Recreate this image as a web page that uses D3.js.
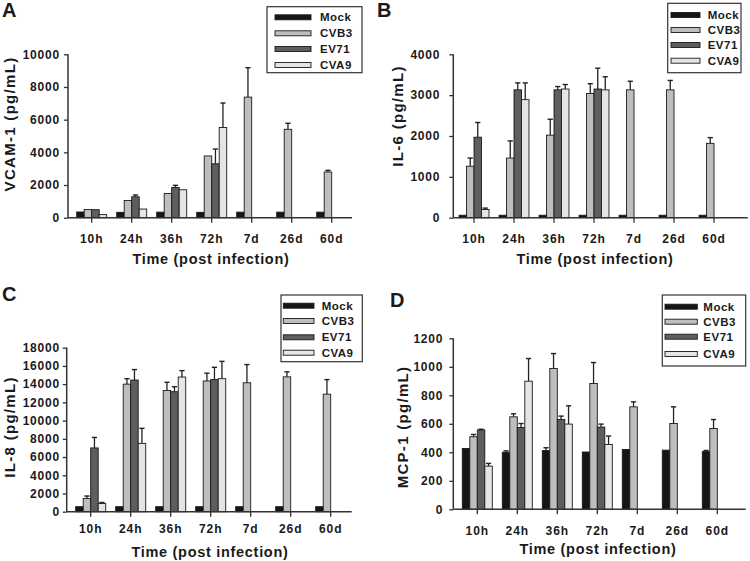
<!DOCTYPE html>
<html>
<head>
<meta charset="utf-8">
<script src="https://cdn.jsdelivr.net/npm/d3@7"></script>
<style>
  body { margin: 0; background: #fff; }
  svg { display: block; }
  text { font-family: 'Liberation Sans', Arial, sans-serif; font-weight: bold; fill: #1a1a1a; }
</style>
</head>
<body>
<div id="chart"></div>
<script>
// categories and series
const categories = ['10h', '24h', '36h', '72h', '7d', '26d', '60d'];
const seriesNames = ['Mock', 'CVB3', 'EV71', 'CVA9'];

// A: VCAM-1 (pg/mL)
const vcamMock = [350, 330, 340, 330, 340, 340, 340];
const vcamCVB3 = [500, 1050, 1480, 3780, 7380, 5410, 2800];
const vcamEV71 = [490, 1280, 1850, 3300, null, null, null];
const vcamCVA9 = [190, 530, 1710, 5520, null, null, null];
const vcamMockErr = [0, 0, 0, 0, 0, 0, 0];
const vcamCVB3Err = [0, 0, 0, 0, 1800, 370, 100];
const vcamEV71Err = [0, 110, 130, 900, 0, 0, 0];
const vcamCVA9Err = [0, 0, 0, 1500, 0, 0, 0];

// B: IL-6 (pg/mL)
const il6Mock = [60, 60, 60, 60, 60, 60, 60];
const il6CVB3 = [1260, 1460, 2020, 3040, 3130, 3130, 1820];
const il6EV71 = [1970, 3130, 3130, 3150, null, null, null];
const il6CVA9 = [200, 2890, 3150, 3130, null, null, null];
const il6MockErr = [0, 0, 0, 0, 0, 0, 0];
const il6CVB3Err = [200, 420, 390, 240, 210, 230, 140];
const il6EV71Err = [360, 170, 80, 510, 0, 0, 0];
const il6CVA9Err = [35, 410, 110, 320, 0, 0, 0];

// C: IL-8 (pg/mL)
const il8Mock = [550, 550, 550, 550, 550, 550, 550];
const il8CVB3 = [1460, 14000, 13300, 14350, 14150, 14800, 12900];
const il8EV71 = [7000, 14450, 13170, 14500, null, null, null];
const il8CVA9 = [900, 7500, 14780, 14600, null, null, null];
const il8MockErr = [0, 0, 0, 0, 0, 0, 0];
const il8CVB3Err = [260, 600, 900, 850, 2000, 550, 1600];
const il8EV71Err = [1150, 1150, 550, 1350, 0, 0, 0];
const il8CVA9Err = [110, 1650, 700, 1900, 0, 0, 0];

// D: MCP-1 (pg/mL)
const mcpMock = [427, 400, 412, 402, 420, 415, 405];
const mcpCVB3 = [509, 649, 988, 883, 719, 602, 567];
const mcpEV71 = [557, 574, 630, 577, null, null, null];
const mcpCVA9 = [303, 899, 598, 455, null, null, null];
const mcpMockErr = [0, 10, 20, 0, 0, 0, 8];
const mcpCVB3Err = [16, 21, 105, 147, 35, 117, 63];
const mcpEV71Err = [5, 28, 24, 21, 0, 0, 0];
const mcpCVA9Err = [19, 159, 128, 59, 0, 0, 0];

const yTicksA = [0, 2000, 4000, 6000, 8000, 10000];
const yTicksB = [0, 1000, 2000, 3000, 4000];
const yTicksC = [0, 2000, 4000, 6000, 8000, 10000, 12000, 14000, 16000, 18000];
const yTicksD = [0, 200, 400, 600, 800, 1000, 1200];

const colors = { Mock: '#151515', CVB3: '#bebebe', EV71: '#5e5e5e', CVA9: '#e5e5e5' };

const svg = d3.select('#chart').append('svg')
  .attr('width', 750)
  .attr('height', 561);

// panel layout (pixel positions)
const panels = [
  { letter: 'A', lx: 2, ly: 17, title: 'VCAM-1 (pg/mL)', tx: 9.5, ty: 124,
    values: [vcamMock, vcamCVB3, vcamEV71, vcamCVA9], errs: [vcamMockErr, vcamCVB3Err, vcamEV71Err, vcamCVA9Err],
    ticks: yTicksA, left: 68, right: 352, top: 54.3, base: 217.7, c0: 91.7, pad: 8,
    xlab: 239.3, xtx: 211, xty: 259.3,
    leg: { x: 267, y: 6.7, w: 95, h: 66, sx0: 275, sx1: 311, tx: 320, rows: [17.3, 33.3, 49, 65] } },
  { letter: 'B', lx: 377, ly: 17, title: 'IL-6 (pg/mL)', tx: 397, ty: 116,
    values: [il6Mock, il6CVB3, il6EV71, il6CVA9], errs: [il6MockErr, il6CVB3Err, il6EV71Err, il6CVA9Err],
    ticks: yTicksB, left: 453.3, right: 747.7, top: 54.3, base: 217.7, c0: 474, pad: 13,
    xlab: 239.3, xtx: 595, xty: 259.3,
    leg: { x: 667.7, y: 3.3, w: 73.3, h: 69.4, sx0: 671, sx1: 700, tx: 707.7, rows: [15, 30, 45, 60.7] } },
  { letter: 'C', lx: 2, ly: 300.7, title: 'IL-8 (pg/mL)', tx: 9, ty: 427,
    values: [il8Mock, il8CVB3, il8EV71, il8CVA9], errs: [il8MockErr, il8CVB3Err, il8EV71Err, il8CVA9Err],
    ticks: yTicksC, left: 66.7, right: 351.7, top: 347.7, base: 511.7, c0: 90.7, pad: 6.7,
    xlab: 529.3, xtx: 210, xty: 551.7,
    leg: { x: 281, y: 295, w: 81.3, h: 66.7, sx0: 283.3, sx1: 314, tx: 321.7, rows: [305.7, 321, 337.3, 352.7] } },
  { letter: 'D', lx: 390, ly: 307, title: 'MCP-1 (pg/mL)', tx: 402, ty: 427,
    values: [mcpMock, mcpCVB3, mcpEV71, mcpCVA9], errs: [mcpMockErr, mcpCVB3Err, mcpEV71Err, mcpCVA9Err],
    ticks: yTicksD, left: 453.3, right: 745.7, top: 338.3, base: 509.3, c0: 477.3, pad: 10,
    xlab: 530.7, xtx: 598, xty: 549.3,
    leg: { x: 662.3, y: 295, w: 83.4, h: 71, sx0: 665, sx1: 697.3, tx: 703.3, rows: [306.7, 321.7, 336.7, 354] } }
];

const drawPanel = (p) => {
  const g = svg.append('g');

  // scales
  const x = d3.scaleBand()
    .domain(categories)
    .range([p.c0 - 20, p.c0 + 40 * categories.length - 20])
    .paddingInner(0.25)
    .paddingOuter(0.125);
  const xSub = d3.scaleBand()
    .domain(seriesNames)
    .range([0, x.bandwidth()]);
  const y = d3.scaleLinear()
    .domain([0, d3.max(p.ticks)])
    .range([p.base, p.top]);

  // bars
  const rows = [];
  seriesNames.forEach((s, si) => {
    categories.forEach((c, ci) => {
      const v = p.values[si][ci];
      if (v != null) rows.push({ s, c, v, e: p.errs[si][ci] });
    });
  });

  // error bars (upper only), drawn first so bar sits on top of stem
  const errRows = rows.filter(d => d.e > 0);
  g.selectAll('.err')
    .data(errRows)
    .enter()
    .append('line')
    .attr('x1', d => x(d.c) + xSub(d.s) + xSub.bandwidth() / 2)
    .attr('x2', d => x(d.c) + xSub(d.s) + xSub.bandwidth() / 2)
    .attr('y1', d => y(d.v))
    .attr('y2', d => y(d.v + d.e))
    .attr('stroke', '#222')
    .attr('stroke-width', 1.3);
  g.selectAll('.cap')
    .data(errRows)
    .enter()
    .append('line')
    .attr('x1', d => x(d.c) + xSub(d.s) + xSub.bandwidth() / 2 - 2.6)
    .attr('x2', d => x(d.c) + xSub(d.s) + xSub.bandwidth() / 2 + 2.6)
    .attr('y1', d => y(d.v + d.e))
    .attr('y2', d => y(d.v + d.e))
    .attr('stroke', '#222')
    .attr('stroke-width', 1.4);

  g.selectAll('.bar')
    .data(rows)
    .enter()
    .append('rect')
    .attr('x', d => x(d.c) + xSub(d.s))
    .attr('y', d => y(d.v))
    .attr('width', xSub.bandwidth())
    .attr('height', d => p.base - y(d.v))
    .attr('fill', d => colors[d.s])
    .attr('stroke', '#1a1a1a')
    .attr('stroke-width', 0.9);

  // y axis
  const yAxis = g.append('g')
    .attr('transform', `translate(${p.left}, 0)`)
    .call(d3.axisLeft(y).tickValues(p.ticks).tickFormat(d3.format('d')).tickSize(4).tickPadding(p.pad - 4));
  yAxis.select('.domain').remove();
  yAxis.selectAll('line').attr('stroke', '#333').attr('stroke-width', 1.3);
  yAxis.selectAll('text')
    .attr('font-size', '12px')
    .style('letter-spacing', '0.8px')
    .attr('fill', '#1a1a1a');

  // x axis
  const xAxis = g.append('g')
    .attr('transform', `translate(0, ${p.base})`)
    .call(d3.axisBottom(x).tickSize(5).tickSizeOuter(0));
  xAxis.select('.domain').remove();
  xAxis.selectAll('line').attr('stroke', '#333').attr('stroke-width', 1.3);
  xAxis.selectAll('text')
    .attr('y', p.xlab - p.base)
    .attr('dy', '0.35em')
    .attr('font-size', '12px')
    .style('letter-spacing', '0.9px')
    .attr('fill', '#1a1a1a');

  // axis lines
  g.append('line')
    .attr('x1', p.left).attr('x2', p.left)
    .attr('y1', p.base).attr('y2', p.top)
    .attr('stroke', '#333').attr('stroke-width', 1.5);
  g.append('line')
    .attr('x1', p.left).attr('x2', p.right)
    .attr('y1', p.base).attr('y2', p.base)
    .attr('stroke', '#333').attr('stroke-width', 1.5);

  // titles
  g.append('text')
    .attr('transform', `translate(${p.tx}, ${p.ty}) rotate(-90)`)
    .attr('text-anchor', 'middle')
    .attr('dominant-baseline', 'central')
    .attr('font-size', '15px')
    .style('letter-spacing', '1.3px')
    .text(p.title);
  g.append('text')
    .attr('x', p.xtx)
    .attr('y', p.xty)
    .attr('text-anchor', 'middle')
    .attr('dominant-baseline', 'central')
    .attr('font-size', '14.5px')
    .style('letter-spacing', '0.7px')
    .text('Time (post infection)');
  g.append('text')
    .attr('x', p.lx)
    .attr('y', p.ly)
    .attr('font-size', '20px')
    .style('font-family', "'Liberation Sans', Arial, sans-serif")
    .text(p.letter);

  // legend
  const L = p.leg;
  g.append('rect')
    .attr('x', L.x).attr('y', L.y)
    .attr('width', L.w).attr('height', L.h)
    .attr('fill', '#fff')
    .attr('stroke', '#333')
    .attr('stroke-width', 1.2);
  seriesNames.forEach((s, i) => {
    g.append('rect')
      .attr('x', L.sx0).attr('y', L.rows[i] - 2.5)
      .attr('width', L.sx1 - L.sx0).attr('height', 5)
      .attr('fill', colors[s])
      .attr('stroke', '#1a1a1a')
      .attr('stroke-width', 0.9);
    g.append('text')
      .attr('x', L.tx).attr('y', L.rows[i])
      .attr('dominant-baseline', 'central')
      .attr('font-size', '11.5px')
      .style('letter-spacing', '0.5px')
      .text(s);
  });
};

panels.forEach(drawPanel);
</script>
</body>
</html>
